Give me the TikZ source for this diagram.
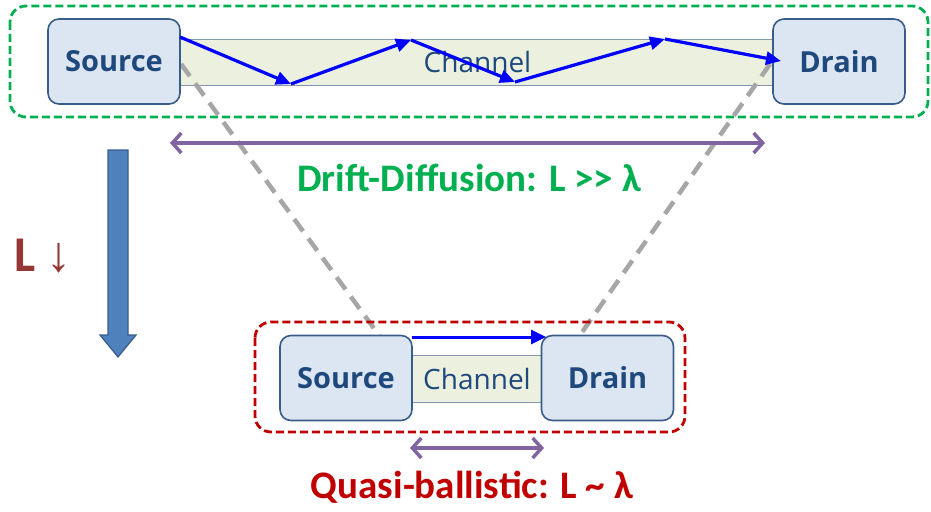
\documentclass[tikz,border=0pt]{standalone}
\usepackage{fontspec}
\setmainfont{Carlito}
\newfontfamily\boxfont{Open Sans}
\newfontfamily\arrowfont{Liberation Serif}
\usetikzlibrary{arrows.meta,positioning,calc}

\definecolor{boxfill}{HTML}{DCE6F2}
\definecolor{boxline}{HTML}{385D8A}
\definecolor{boxtext}{HTML}{1F497D}
\definecolor{chanfill}{HTML}{EBF1DE}
\definecolor{chanline}{HTML}{8497B0}
\definecolor{ddgreen}{HTML}{00B050}
\definecolor{qbred}{HTML}{C00000}
\definecolor{spanpurple}{HTML}{8064A2}
\definecolor{guidegray}{HTML}{A6A6A6}
\definecolor{arrowblue}{HTML}{4F81BD}
\definecolor{lred}{HTML}{953735}

\tikzset{
  tbox/.style={draw=boxline, fill=boxfill, line width=1.6pt, rounded corners=11pt,
    minimum width=132pt, minimum height=85pt, inner sep=0pt, text=boxtext,
    font=\boxfont\bfseries\fontsize{29}{34}\selectfont},
  chan/.style={draw=chanline, fill=chanfill, line width=0.8pt, inner sep=0pt,
    text=boxtext, font=\boxfont\fontsize{28}{34}\selectfont},
  zig/.style={draw=blue, line width=3.2pt, -{Triangle[length=15pt,width=13pt]}},
  span/.style={draw=spanpurple, line width=3.5pt,
    {Straight Barb[length=9pt,width=20pt]}-{Straight Barb[length=9pt,width=20pt]}},
  guide/.style={draw=guidegray, line width=4.5pt, dash pattern=on 15pt off 9pt},
  regime/.style={rounded corners=16pt, line width=2.8pt, dash pattern=on 8pt off 4pt}
}

\begin{document}
\begin{tikzpicture}[x=1pt,y=-1pt]
\useasboundingbox (0,0) rectangle (931,511);

% long channel (drift-diffusion)
\draw[regime, draw=ddgreen] (10,6) rectangle (928,117);
\node[chan, minimum width=595pt, minimum height=46pt] (ch_t) at (477.5,62) {Channel};

% guide lines between the two devices
\coordinate (gl_a) at (181,64);
\coordinate (gl_b) at (381,338);
\coordinate (gr_a) at (770,64);
\coordinate (gr_b) at (578,338);
\draw[guide] (gl_a) -- (gl_b);
\draw[guide] (gr_a) -- (gr_b);

\node[tbox] (src_t) at (114,61.5) {Source};
\node[tbox] (drn_t) at (839,61.5) {Drain};

% scattered path through the long channel
\coordinate (z0) at (180,37);
\coordinate (z1) at (291,84);
\coordinate (z2) at (411,40);
\coordinate (z3) at (515,82);
\coordinate (z4) at (665,39);
\coordinate (z5) at (781,61);
\foreach \a/\b in {z0/z1,z1/z2,z2/z3,z3/z4,z4/z5}
  \draw[zig] (\a) -- (\b);

\coordinate (sp_l) at (170,143);
\coordinate (sp_r) at (765,143);
\draw[span] (sp_l) -- (sp_r);
\node[text=ddgreen, font=\bfseries\fontsize{39}{44}\selectfont] (dd) at (469,178) {Drift-Diffusion: L >{}> λ};

% shrinking L
\draw[draw=boxline, fill=arrowblue, line width=1.2pt]
  (108,150) -- (128,150) -- (128,335) -- (136,335) -- (118,357) -- (100,335) -- (108,335) -- cycle;
\node[text=lred, font=\bfseries\fontsize{50}{56}\selectfont] (lshrink) at (43,256) {L {\arrowfont\mdseries ↓}};

% short channel (quasi-ballistic)
\draw[regime, draw=qbred] (255,322) rectangle (685,432);
\node[chan, minimum width=132pt, minimum height=47pt] (ch_b) at (477,378.5) {Channel};
\node[tbox] (src_b) at (346,378) {Source};
\node[tbox] (drn_b) at (607.5,378) {Drain};

\coordinate (bl_a) at (412,337);
\coordinate (bl_b) at (546,337);
\draw[draw=blue, line width=3pt, -{Triangle[length=15pt,width=14pt]}] (bl_a) -- (bl_b);

\coordinate (sb_l) at (410,448);
\coordinate (sb_r) at (544,448);
\draw[span] (sb_l) -- (sb_r);
\node[text=qbred, font=\bfseries\fontsize{39}{44}\selectfont] (qb) at (472,487) {Quasi-ballistic: L \textasciitilde{} λ};
\end{tikzpicture}
\end{document}
